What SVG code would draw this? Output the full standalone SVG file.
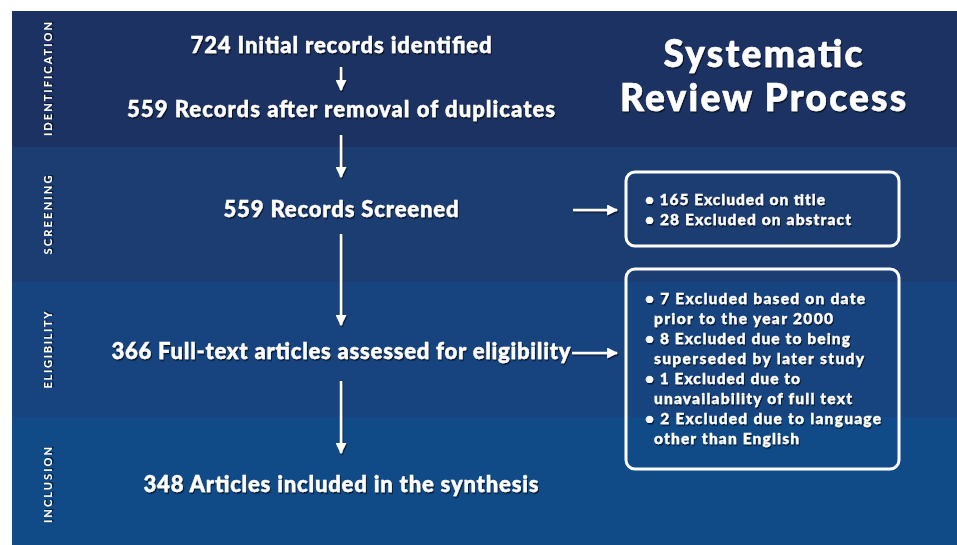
<svg xmlns="http://www.w3.org/2000/svg" width="957" height="545" viewBox="0 0 957 545">
  <defs>
    <filter id="shadow" x="-10%" y="-30%" width="120%" height="160%">
      <feDropShadow dx="1" dy="1.5" stdDeviation="0.7" flood-color="#000" flood-opacity="0.65"/>
    </filter>
    <!-- user-space region so zero-width straight lines still render -->
    <filter id="lineShadow" filterUnits="userSpaceOnUse" x="0" y="0" width="957" height="545">
      <feDropShadow dx="1" dy="1.5" stdDeviation="0.7" flood-color="#000" flood-opacity="0.6"/>
    </filter>
    <marker id="head" markerWidth="11" markerHeight="11" viewBox="0 0 10 10" refX="9" refY="5" orient="auto" markerUnits="userSpaceOnUse">
      <path d="M0,0 L10,5 L0,10 Z" fill="#fff"/>
    </marker>
    <style>
      .lbl { font-family: Lato, "Liberation Sans", Arial, sans-serif; font-weight: 900; fill: #fff; stroke: #fff; stroke-width: 0.4; filter: url(#shadow); }
      .main { font-size: 22px; text-anchor: middle; }
      .title { font-size: 37px; text-anchor: middle; stroke-width: 0.6; }
      .item { font-size: 15.5px; stroke-width: 0.3; }
      .side { font-size: 11px; text-anchor: middle; stroke-width: 0; font-weight: bold; }
      .box { fill: none; stroke: #fff; stroke-width: 3; }
      .conn line { stroke: #fff; stroke-width: 2.5; marker-end: url(#head); }
    </style>
  </defs>

  <rect x="0" y="0" width="957" height="545" fill="#fff"/>

  <!-- phase bands -->
  <g id="bands">
    <rect x="12" y="11" width="945" height="136" fill="#1b3262"/>
    <rect x="12" y="147" width="945" height="135" fill="#1c3d72"/>
    <rect x="12" y="282" width="945" height="135" fill="#17437f"/>
    <rect x="12" y="417" width="945" height="128" fill="#104a87"/>
  </g>

  <!-- phase labels -->
  <g id="phase-labels">
    <text class="lbl side" transform="translate(52,79) rotate(-90)" textLength="114">IDENTIFICATION</text>
    <text class="lbl side" transform="translate(52,215) rotate(-90)" textLength="79">SCREENING</text>
    <text class="lbl side" transform="translate(52,350) rotate(-90)" textLength="77">ELIGIBILITY</text>
    <text class="lbl side" transform="translate(52,485) rotate(-90)" textLength="76">INCLUSION</text>
  </g>

  <g id="title">
    <text class="lbl title" x="763" y="67" textLength="199">Systematic</text>
    <text class="lbl title" x="763" y="111" textLength="286">Review Process</text>
  </g>

  <g id="identified">
    <text class="lbl main" x="341" y="53" textLength="301">724 Initial records identified</text>
  </g>
  <g id="deduplicated">
    <text class="lbl main" x="341" y="117" textLength="428">559 Records after removal of duplicates</text>
  </g>
  <g id="screened">
    <text class="lbl main" x="341" y="217" textLength="235">559 Records Screened</text>
  </g>
  <g id="assessed">
    <text class="lbl main" x="341" y="359" textLength="459">366 Full-text articles assessed for eligibility</text>
  </g>
  <g id="included">
    <text class="lbl main" x="341" y="492" textLength="395">348 Articles included in the synthesis</text>
  </g>

  <g id="screening-exclusions">
    <rect class="box" x="626" y="172" width="273" height="74" rx="9"/>
    <text class="lbl item" x="645" y="205" textLength="180">• 165 Excluded on title</text>
    <text class="lbl item" x="645" y="225" textLength="206">• 28 Excluded on abstract</text>
  </g>

  <g id="eligibility-exclusions">
    <rect class="box" x="626" y="269" width="273" height="200" rx="9"/>
    <text class="lbl item" x="645" y="304" textLength="220">• 7 Excluded based on date</text>
    <text class="lbl item" x="654" y="324" textLength="179">prior to the year 2000</text>
    <text class="lbl item" x="645" y="344" textLength="205">• 8 Excluded due to being</text>
    <text class="lbl item" x="654" y="364" textLength="210">superseded by later study</text>
    <text class="lbl item" x="645" y="384" textLength="155">• 1 Excluded due to</text>
    <text class="lbl item" x="654" y="404" textLength="198">unavailability of full text</text>
    <text class="lbl item" x="645" y="424" textLength="236">• 2 Excluded due to language</text>
    <text class="lbl item" x="654" y="444" textLength="145">other than English</text>
  </g>

  <!-- connectors -->
  <g id="connectors" class="conn" filter="url(#lineShadow)">
    <line x1="341" y1="67" x2="341" y2="90"/>
    <line x1="341" y1="135" x2="341" y2="177"/>
    <line x1="341" y1="234" x2="341" y2="325"/>
    <line x1="341" y1="381" x2="341" y2="453"/>
    <line x1="573" y1="210" x2="617" y2="210"/>
    <line x1="572" y1="353" x2="617" y2="353"/>
  </g>
</svg>
